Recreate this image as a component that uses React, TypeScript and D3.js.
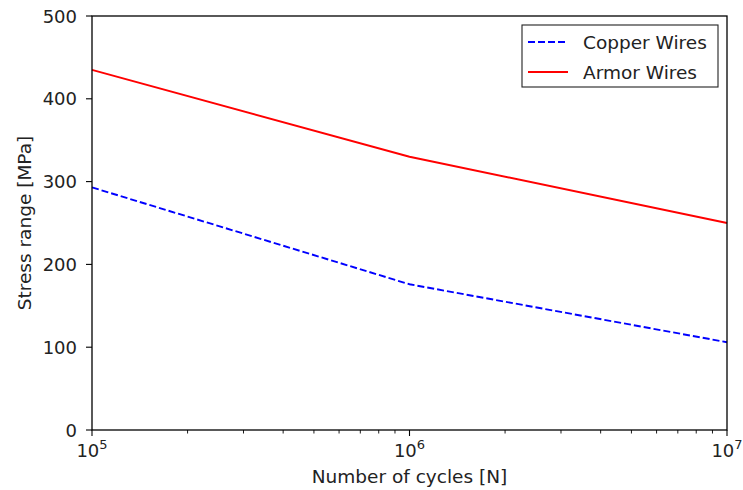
import React, { useEffect, useRef } from 'react';
import * as d3 from 'd3';

const cycles = [1e5, 1e6, 1e7];
const copperStress = [293, 176, 106];
const armorStress = [435, 330, 250];
const yTicks = [0, 100, 200, 300, 400, 500];
const xMajor = [1e5, 1e6, 1e7];
const xExponents = ['5', '6', '7'];

const W = 743;
const H = 490;
const FONT = 'DejaVu Sans, sans-serif';
const DASH = '7,3';

export default function App() {
  const ref = useRef<SVGSVGElement | null>(null);

  useEffect(() => {
    const svg = d3.select(ref.current);
    svg.selectAll('*').remove();

    const m = { left: 92, right: 16, top: 16, bottom: 60 };
    const x = d3.scaleLog().domain([1e5, 1e7]).range([m.left, W - m.right]);
    const y = d3.scaleLinear().domain([0, 500]).range([H - m.bottom, m.top]);

    svg.append('rect').attr('width', W).attr('height', H).attr('fill', '#fff');

    const line = d3
      .line<number>()
      .x((_, i) => x(cycles[i]))
      .y((d) => y(d));

    svg
      .append('path')
      .datum(copperStress)
      .attr('d', line)
      .attr('fill', 'none')
      .attr('stroke', '#0000ff')
      .attr('stroke-width', 1.9)
      .attr('stroke-dasharray', DASH);

    svg
      .append('path')
      .datum(armorStress)
      .attr('d', line)
      .attr('fill', 'none')
      .attr('stroke', '#ff0000')
      .attr('stroke-width', 1.9);

    // frame
    svg
      .append('rect')
      .attr('x', m.left)
      .attr('y', m.top)
      .attr('width', W - m.left - m.right)
      .attr('height', H - m.top - m.bottom)
      .attr('fill', 'none')
      .attr('stroke', '#000')
      .attr('stroke-width', 1.3);

    // y ticks
    const yb = H - m.bottom;
    yTicks.forEach((t) => {
      svg.append('line')
        .attr('x1', m.left - 6).attr('x2', m.left)
        .attr('y1', y(t)).attr('y2', y(t))
        .attr('stroke', '#000').attr('stroke-width', 1.1);
      svg.append('text')
        .attr('x', m.left - 15).attr('y', y(t))
        .attr('text-anchor', 'end').attr('dominant-baseline', 'central')
        .attr('font-family', FONT).attr('font-size', 18).attr('fill', '#222')
        .text(t);
    });

    // x ticks: majors and log minors
    const minors: number[] = [];
    [1e5, 1e6].forEach((dec) => {
      for (let k = 2; k <= 9; k++) minors.push(dec * k);
    });
    minors.forEach((t) => {
      svg.append('line')
        .attr('x1', x(t)).attr('x2', x(t))
        .attr('y1', yb).attr('y2', yb + 3.5)
        .attr('stroke', '#000').attr('stroke-width', 0.9);
    });
    xMajor.forEach((t, i) => {
      svg.append('line')
        .attr('x1', x(t)).attr('x2', x(t))
        .attr('y1', yb).attr('y2', yb + 6)
        .attr('stroke', '#000').attr('stroke-width', 1.1);
      const tx = svg.append('text')
        .attr('x', x(t)).attr('y', yb + 27)
        .attr('text-anchor', 'middle')
        .attr('font-family', FONT).attr('font-size', 18).attr('fill', '#222');
      tx.append('tspan').text('10');
      tx.append('tspan').attr('dy', -8).attr('font-size', 13).text(xExponents[i]);
    });

    svg.append('text')
      .attr('x', (m.left + W - m.right) / 2).attr('y', H - 7)
      .attr('text-anchor', 'middle')
      .attr('font-family', FONT).attr('font-size', 18.5).attr('fill', '#222')
      .text('Number of cycles [N]');

    svg.append('text')
      .attr('transform', `translate(31,${(m.top + yb) / 2}) rotate(-90)`)
      .attr('text-anchor', 'middle')
      .attr('font-family', FONT).attr('font-size', 18.5).attr('fill', '#222')
      .text('Stress range [MPa]');

    // legend
    const lg = svg.append('g').attr('transform', 'translate(522,25)');
    lg.append('rect')
      .attr('width', 196).attr('height', 62)
      .attr('fill', '#fff').attr('stroke', '#222').attr('stroke-width', 1.1);
    const items = [
      { label: 'Copper Wires', color: '#0000ff', dash: DASH },
      { label: 'Armor Wires', color: '#ff0000', dash: null },
    ];
    items.forEach((it, i) => {
      const cy = 17 + i * 30;
      lg.append('line')
        .attr('x1', 6).attr('x2', 46).attr('y1', cy).attr('y2', cy)
        .attr('stroke', it.color).attr('stroke-width', 1.9)
        .attr('stroke-dasharray', it.dash);
      lg.append('text')
        .attr('x', 61).attr('y', cy).attr('dominant-baseline', 'central')
        .attr('font-family', FONT).attr('font-size', 18.5).attr('fill', '#222')
        .text(it.label);
    });
  }, []);

  return (
    <div style={{ position: 'absolute', left: 0, top: 0 }}>
      <svg ref={ref} width={W} height={H} />
    </div>
  );
}
